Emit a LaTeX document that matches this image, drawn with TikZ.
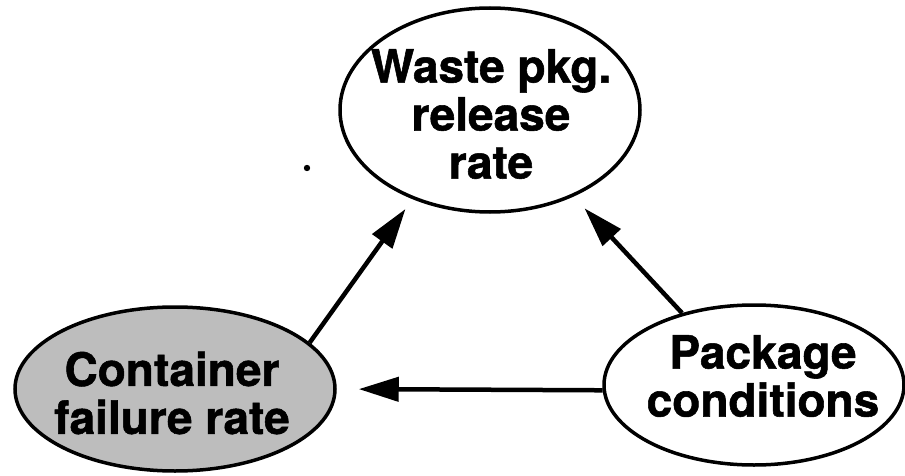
\documentclass[tikz,border=0pt]{standalone}
\usepackage{fontspec}
\setmainfont{TeX Gyre Heros}[BoldFeatures={FakeBold=1.2}]
\usetikzlibrary{shapes.geometric,arrows.meta}

\tikzset{
  bubble/.style={ellipse, draw=black, line width=3.5pt, inner sep=0pt},
  shaded/.style={fill=black!26},
  caption/.style={font=\fontsize{46}{48}\selectfont\bfseries, align=center, inner sep=0pt},
  link/.style={line width=4.5pt, -{Triangle[length=40pt,width=24pt]}}
}

\begin{document}
\begin{tikzpicture}[x=1pt,y=-1pt]
  \useasboundingbox (0,0) rectangle (905,476);

  % the three quantities
  \node[bubble, minimum width=300pt, minimum height=204pt] (release) at (490,110) {};
  \node[bubble, shaded, minimum width=320pt, minimum height=164pt] (failure) at (175,389) {};
  \node[bubble, minimum width=300pt, minimum height=160pt] (conditions) at (754,385) {};

  \node[caption] (releasetext) at (491,114) {Waste pkg.\\release\\rate};
  \node[caption] (failuretext) at (172,393) {Container\\failure rate};
  \node[caption] (conditionstext) at (763,376) {Package\\conditions};

  % influences
  \draw[link, shorten >=12pt] (failure.19.5) -- (release.229);
  \draw[link, shorten >=16pt] (conditions.135.8) -- (release.314);
  \draw[link, shorten >=22pt] (conditions.182) -- (failure.east);

  % stray speck
  \fill (307,168) circle (3.2pt);
\end{tikzpicture}
\end{document}
